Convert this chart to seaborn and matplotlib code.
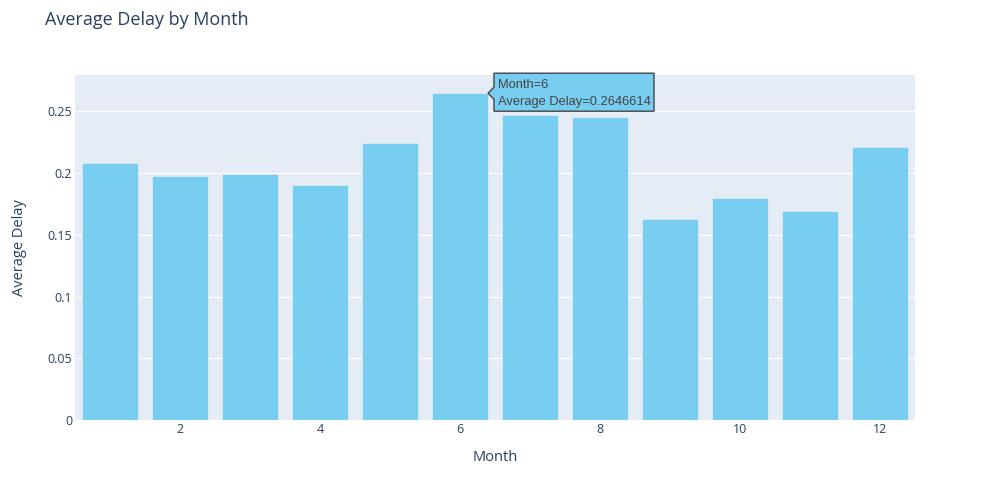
import matplotlib
matplotlib.use("Agg")
import matplotlib.pyplot as plt
import matplotlib.transforms as mtransforms
from matplotlib.patches import Polygon
import seaborn as sns
import pandas as pd

months = [1, 2, 3, 4, 5, 6, 7, 8, 9, 10, 11, 12]
avg_delay = [0.2079, 0.1976, 0.1994, 0.1905, 0.2241, 0.2646614,
             0.2470, 0.2451, 0.1625, 0.1800, 0.1692, 0.2213]
y_ticks = [0, 0.05, 0.1, 0.15, 0.2, 0.25]
y_tick_labels = ["0", "0.05", "0.1", "0.15", "0.2", "0.25"]
x_ticks = [2, 4, 6, 8, 10, 12]

df = pd.DataFrame({"Month": months, "Average Delay": avg_delay})

sns.set_theme(style="white")
plt.rcParams["font.family"] = ["Open Sans", "DejaVu Sans"]

BAR = "#77CEF0"
BG = "#E5ECF6"
TXT = "#2a3f5f"

fig = plt.figure(figsize=(9.92, 4.86), dpi=100)
fig.patch.set_facecolor("white")
ax = fig.add_axes([75 / 992, 1 - 420 / 486, 840 / 992, 345 / 486])
ax.set_facecolor(BG)

sns.barplot(data=df, x="Month", y="Average Delay", native_scale=True,
            color=BAR, saturation=1, width=0.8, edgecolor=BG, linewidth=0.5,
            ax=ax, zorder=3)

ax.set_xlim(0.5, 12.5)
ax.set_ylim(0, 0.2794)
ax.set_yticks(y_ticks)
ax.set_yticklabels(y_tick_labels)
ax.set_xticks(x_ticks)
ax.set_xticklabels([str(t) for t in x_ticks])
ax.yaxis.grid(True, color="white", linewidth=1, zorder=0)
ax.xaxis.grid(False)
ax.set_axisbelow(True)
for s in ax.spines.values():
    s.set_visible(False)
ax.tick_params(axis="both", length=0, labelsize=9, labelcolor=TXT, pad=2)

ax.set_xlabel("Month", fontsize=10.5, color=TXT, labelpad=10.5)
ax.set_ylabel("Average Delay", fontsize=10.5, color=TXT, labelpad=14.5)
fig.text(45 / 992, 1 - 20 / 486, "Average Delay by Month", fontsize=13,
         color=TXT, va="center", ha="left")

# hover tooltip for month 6
hx = months[5] + 0.4
hy = avg_delay[5]
trans = mtransforms.Affine2D() + mtransforms.ScaledTranslation(hx, hy, ax.transData)
verts = [(0, 0), (6, 6), (6, 20), (166, 20), (166, -18), (6, -18), (6, -6)]
poly = Polygon(verts, closed=True, facecolor=BAR, edgecolor="#444444",
               linewidth=1, transform=trans, clip_on=False, zorder=10)
ax.add_patch(poly)
ax.text(10, 8, "Month=6", transform=trans, fontsize=9.3, color="#444444",
        va="center", ha="left", family=["Liberation Sans"], zorder=11, clip_on=False)
ax.text(10, -9, "Average Delay=0.2646614", transform=trans, fontsize=9.3,
        color="#444444", va="center", ha="left", family=["Liberation Sans"],
        zorder=11, clip_on=False)

fig.savefig("out.png", dpi=100)
